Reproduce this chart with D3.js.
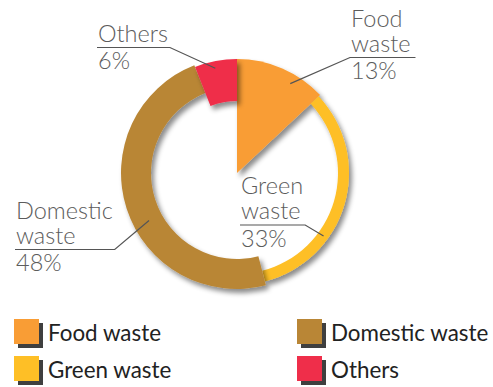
<!DOCTYPE html>
<html>
<head>
<meta charset="utf-8">
<script src="https://cdn.jsdelivr.net/npm/d3@7"></script>
<style>
  html, body { margin: 0; padding: 0; background: #fff; }
  svg { display: block; }
</style>
</head>
<body>
<svg id="chart" width="493" height="387"></svg>
<script>
// Waste composition
const categories = ["Food waste", "Green waste", "Domestic waste", "Others"];
const shares = [13, 33, 48, 6];
const labelLines = [["Food", "waste"], ["Green", "waste"], ["Domestic", "waste"], ["Others"]];

// Styling
const colors = ["#F99D35", "#FEBF26", "#B98636", "#EF2E4A"];
const innerRadii = [0, 101, 86, 72];
const outerRadii = [114, 112, 116, 114];
const center = { x: 237, y: 173 };
const font = "Lato, 'Open Sans', sans-serif";

// Callout layout: where each leader touches its slice (angle in degrees, radius)
// and where its text block sits (left x, underline y, side the leader joins).
const callouts = [
  { angle: 30.8, r: 104, x: 350, lineY: 57.5, side: "left" },
  { angle: 126, r: 107, x: 240, lineY: 225, side: "right" },
  { angle: 241.6, r: 100, x: 15, lineY: 249.5, side: "right" },
  { angle: 348.3, r: 107, x: 97, lineY: 47.5, side: "right" }
];

const svg = d3.select("#chart");

const defs = svg.append("defs");
const shadow = defs.append("filter").attr("id", "shadow")
  .attr("x", "-20%").attr("y", "-20%").attr("width", "140%").attr("height", "140%");
shadow.append("feDropShadow")
  .attr("dx", 3).attr("dy", 4).attr("stdDeviation", 2.6)
  .attr("flood-color", "#000").attr("flood-opacity", 0.45);

const pie = d3.pie().sort(null).value(d => d)(shares);

const g = svg.append("g").attr("transform", `translate(${center.x},${center.y})`);

g.selectAll("path.slice")
  .data(pie)
  .join("path")
  .attr("class", "slice")
  .attr("fill", (d, i) => colors[i])
  .attr("filter", "url(#shadow)")
  .attr("d", (d, i) => d3.arc().innerRadius(innerRadii[i]).outerRadius(outerRadii[i])(d));

// Callout labels with leader lines
const rad = Math.PI / 180;
const labels = svg.append("g").attr("font-family", font).attr("font-size", 23.5)
  .attr("font-weight", 300).attr("fill", "#5c5c5c");

callouts.forEach((c, i) => {
  const block = labels.append("g");
  const lines = labelLines[i];
  lines.forEach((t, k) => {
    block.append("text")
      .attr("x", c.x + 1)
      .attr("y", c.lineY - 6 - (lines.length - 1 - k) * 25)
      .text(t);
  });
  block.append("text").attr("x", c.x + 1).attr("y", c.lineY + 21.5).text(shares[i] + "%");
  const w = d3.max(block.selectAll("text").nodes(), n => n.getComputedTextLength()) + 3;

  const px = center.x + c.r * Math.sin(c.angle * rad);
  const py = center.y - c.r * Math.cos(c.angle * rad);
  const joinX = c.side === "left" ? c.x : c.x + w;
  const endX = c.side === "left" ? c.x + w + 3 : c.x;
  svg.append("path")
    .attr("fill", "none")
    .attr("stroke", "#555")
    .attr("stroke-width", 1.2)
    .attr("d", d3.line()([[px, py], [joinX, c.lineY], [endX, c.lineY]]));
});

// Legend: two columns, two rows
const legendPos = categories.map((name, i) => ({
  name, i,
  x: i < 2 ? 14 : 297,
  y: i % 2 === 0 ? 319 : 356
}));

const legend = svg.append("g").attr("font-family", font).attr("font-size", 22.4).attr("fill", "#222");
legendPos.forEach(p => {
  legend.append("rect").attr("x", p.x + 4).attr("y", p.y + 4).attr("width", 25).attr("height", 25).attr("fill", "#3f3f3f");
  legend.append("rect").attr("x", p.x).attr("y", p.y).attr("width", 25).attr("height", 25).attr("fill", colors[p.i]);
  legend.append("text").attr("x", p.x + 34).attr("y", p.y + 22).text(p.name);
});
</script>
</body>
</html>
